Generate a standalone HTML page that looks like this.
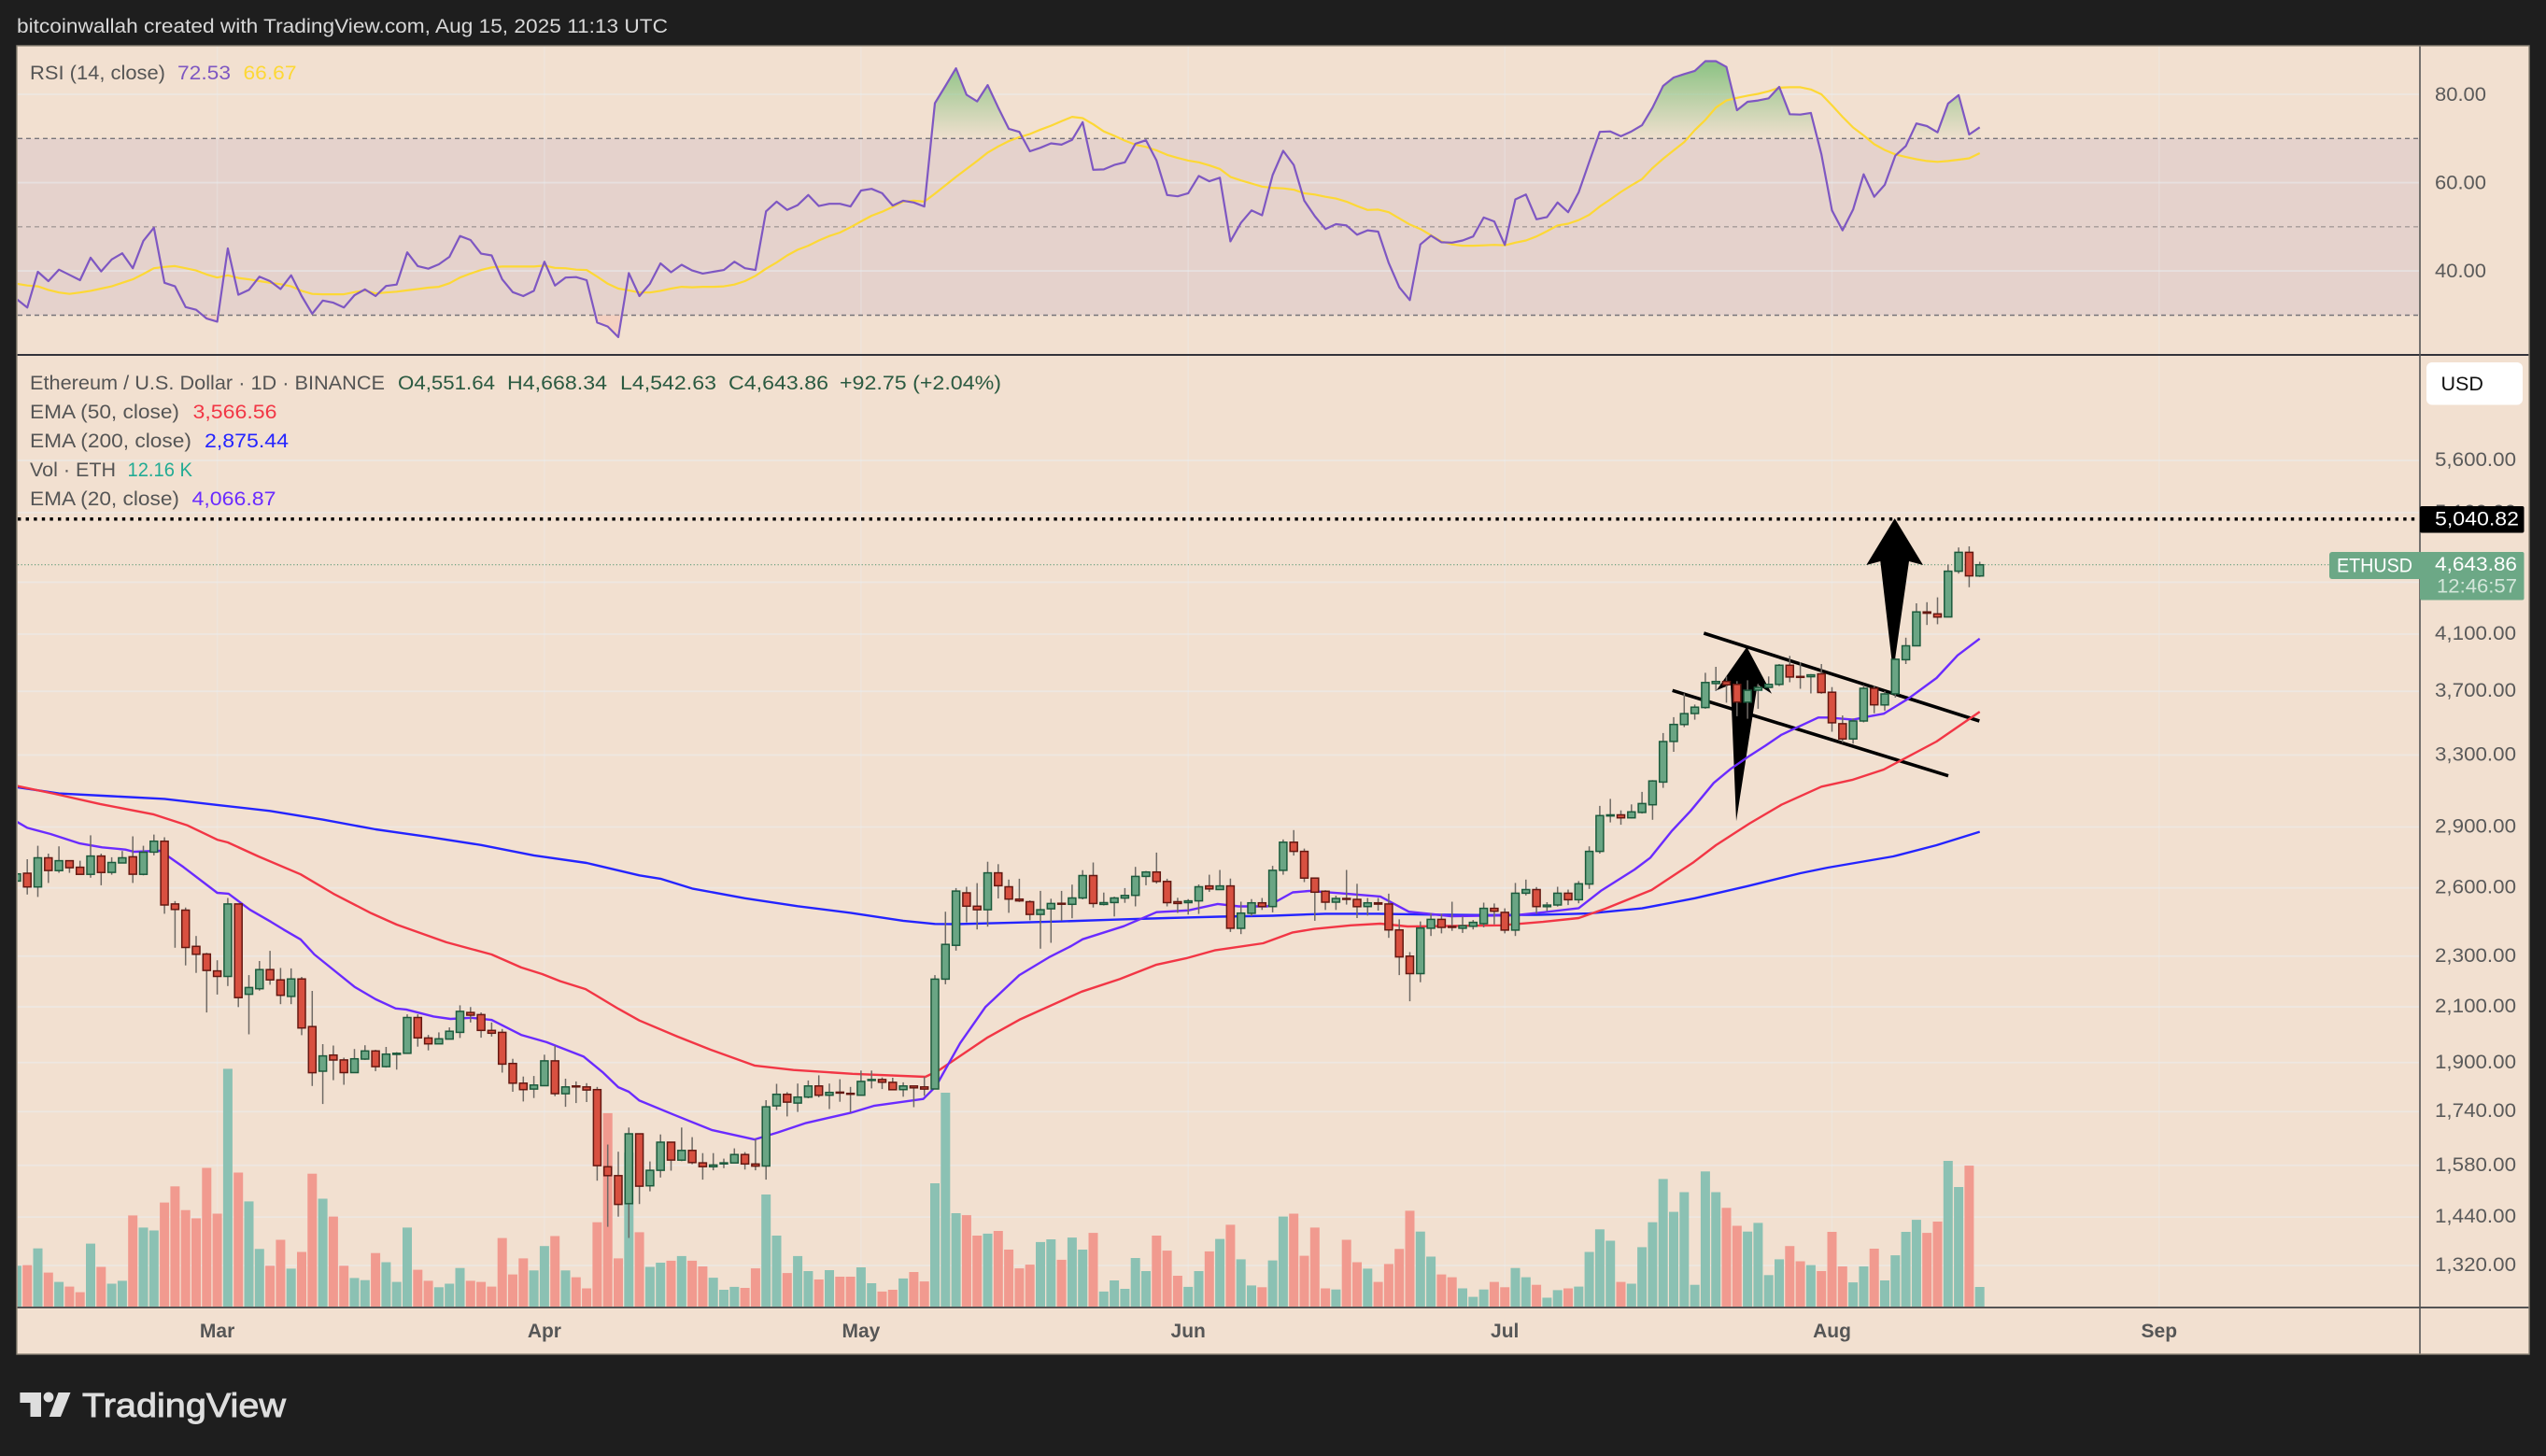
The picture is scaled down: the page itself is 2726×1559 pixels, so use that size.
<!DOCTYPE html>
<html lang="en">
<head>
<meta charset="utf-8">
<title>ETHUSD chart</title>
<style>
html,body{margin:0;padding:0;background:#1e1e1e;width:2726px;height:1559px;overflow:hidden}
svg{display:block}
text{font-family:"Liberation Sans",sans-serif}
</style>
</head>
<body>
<svg id="chart" xmlns="http://www.w3.org/2000/svg" width="2726" height="1559" viewBox="0 0 2726 1559">
  <defs>
    <clipPath id="plotClip"><rect x="19" y="50" width="2571" height="1350"/></clipPath>
    <clipPath id="rsiPaneClip"><rect x="19" y="50" width="2571" height="329"/></clipPath>
    <clipPath id="aboveClip"><rect x="19" y="50" width="2571" height="98.3"/></clipPath>
    <clipPath id="belowClip"><rect x="19" y="337.5" width="2571" height="42"/></clipPath>
    <linearGradient id="rsiUpGradient" gradientUnits="userSpaceOnUse" x1="0" y1="70" x2="0" y2="148">
      <stop offset="0" stop-color="#7fbf7a" stop-opacity="0.85"/>
      <stop offset="1" stop-color="#7fbf7a" stop-opacity="0.03"/>
    </linearGradient>
  </defs>

  <rect x="0" y="0" width="2726" height="1559" fill="#1e1e1e"/>
  <text x="18" y="35" font-size="21" fill="#d8d8d8" textLength="697" lengthAdjust="spacingAndGlyphs">bitcoinwallah created with TradingView.com, Aug 15, 2025 11:13 UTC</text>

  <rect x="18" y="49" width="2690" height="1401" fill="#f2e0d0"/>
  <rect x="19" y="148.3" width="2571" height="189.2" fill="#e5d2cc"/>

  <g id="gridLayer"></g>

  <line x1="19" x2="2590" y1="148.3" y2="148.3" stroke="#77757a" stroke-width="1.4" stroke-dasharray="5 4"/>
  <line x1="19" x2="2590" y1="242.8" y2="242.8" stroke="#a59a98" stroke-width="1.4" stroke-dasharray="5 4"/>
  <line x1="19" x2="2590" y1="337.5" y2="337.5" stroke="#77757a" stroke-width="1.4" stroke-dasharray="5 4"/>

  <g id="rsiLayer" clip-path="url(#rsiPaneClip)"></g>
  <g id="volumeLayer" clip-path="url(#plotClip)"></g>

  <g>
    <line id="targetLine" x1="19" x2="2590" stroke="#000" stroke-width="3.4" stroke-dasharray="3.4 5.2"/>
    <line id="lastPriceLine" x1="19" x2="2494" stroke="#5f9a78" stroke-width="1.2" stroke-dasharray="1.2 2.4"/>
    <polygon points="1870.3,692.7 1897,742.7 1881.7,733 1859,879.3 1853,733 1837.7,739.3" fill="#000"/>
    <polygon points="2028.7,555 2059,605 2044,601 2027,720 2013.3,601 1998.3,605" fill="#000"/>
    <line x1="1824.3" y1="678" x2="2119.3" y2="772" stroke="#000" stroke-width="3.6"/>
    <line x1="1790.7" y1="739.3" x2="2086" y2="830.7" stroke="#000" stroke-width="3.6"/>
  </g>

  <g id="emaLayer" clip-path="url(#plotClip)"></g>
  <g id="candleLayer" clip-path="url(#plotClip)"></g>

  <line x1="18" x2="2708" y1="380" y2="380" stroke="#33333a" stroke-width="2"/>
  <line x1="18" x2="2708" y1="1400" y2="1400" stroke="#555" stroke-width="2"/>
  <line x1="2591" x2="2591" y1="49" y2="1450" stroke="#555" stroke-width="1.6"/>
  <rect x="18" y="49" width="2690" height="1401" fill="none" stroke="#8d8578" stroke-width="1.4"/>

  <g id="axisLayer"></g>

  <g font-size="21">
    <text x="32" y="85" fill="#555" textLength="145" lengthAdjust="spacingAndGlyphs">RSI (14, close)</text>
    <text x="190" y="85" fill="#7e57c2" textLength="57" lengthAdjust="spacingAndGlyphs">72.53</text>
    <text x="260.5" y="85" fill="#fdd835" textLength="57" lengthAdjust="spacingAndGlyphs">66.67</text>
  </g>
  <g font-size="21">
    <text x="32" y="417" fill="#555" textLength="380" lengthAdjust="spacingAndGlyphs">Ethereum / U.S. Dollar · 1D · BINANCE</text>
    <text x="426" y="417" fill="#2b5a41" textLength="104" lengthAdjust="spacingAndGlyphs">O4,551.64</text>
    <text x="543" y="417" fill="#2b5a41" textLength="107" lengthAdjust="spacingAndGlyphs">H4,668.34</text>
    <text x="664" y="417" fill="#2b5a41" textLength="103" lengthAdjust="spacingAndGlyphs">L4,542.63</text>
    <text x="780" y="417" fill="#2b5a41" textLength="107" lengthAdjust="spacingAndGlyphs">C4,643.86</text>
    <text x="899" y="417" fill="#2b5a41" textLength="173" lengthAdjust="spacingAndGlyphs">+92.75 (+2.04%)</text>
    <text x="32" y="448" fill="#555" textLength="160" lengthAdjust="spacingAndGlyphs">EMA (50, close)</text>
    <text x="206.5" y="448" fill="#f23645" textLength="90" lengthAdjust="spacingAndGlyphs">3,566.56</text>
    <text x="32" y="479" fill="#555" textLength="173" lengthAdjust="spacingAndGlyphs">EMA (200, close)</text>
    <text x="219" y="479" fill="#2424ff" textLength="90" lengthAdjust="spacingAndGlyphs">2,875.44</text>
    <text x="32" y="510" fill="#555" textLength="92" lengthAdjust="spacingAndGlyphs">Vol · ETH</text>
    <text x="136.5" y="510" fill="#22ab94" textLength="69.5" lengthAdjust="spacingAndGlyphs">12.16 K</text>
    <text x="32" y="541" fill="#555" textLength="160" lengthAdjust="spacingAndGlyphs">EMA (20, close)</text>
    <text x="205.5" y="541" fill="#6a2bff" textLength="90" lengthAdjust="spacingAndGlyphs">4,066.87</text>
  </g>

  <rect x="2598" y="388" width="103" height="45.5" rx="6" fill="#ffffff"/>
  <text x="2613.5" y="418" font-size="21" fill="#111" textLength="45.5" lengthAdjust="spacingAndGlyphs">USD</text>

  <rect x="2591" y="542" width="111.5" height="28.5" rx="2" fill="#000"/>
  <text x="2607" y="562.5" font-size="21" fill="#fff" textLength="90" lengthAdjust="spacingAndGlyphs">5,040.82</text>

  <rect x="2494" y="591" width="100" height="29" rx="3" fill="#6ca886"/>
  <text x="2502" y="612.5" font-size="21" fill="#fff" textLength="81" lengthAdjust="spacingAndGlyphs">ETHUSD</text>
  <rect x="2591" y="591" width="111.5" height="51.5" rx="2" fill="#6ca886"/>
  <text x="2607" y="611" font-size="21" fill="#fff" textLength="88" lengthAdjust="spacingAndGlyphs">4,643.86</text>
  <text x="2609" y="634.5" font-size="21" fill="#d3e6da" textLength="86" lengthAdjust="spacingAndGlyphs">12:46:57</text>

  <g fill="#dedede">
    <polygon points="21.4,1491 44,1491 44,1517 32.5,1517 32.5,1502 21.4,1502"/>
    <circle cx="52" cy="1496" r="5.4"/>
    <polygon points="62.5,1491 75.5,1491 65,1517 52.7,1517"/>
    <text x="88" y="1517" font-size="36" stroke="#dedede" stroke-width="0.9" textLength="218" lengthAdjust="spacingAndGlyphs">TradingView</text>
  </g>
</svg>

<script>
const firstDay = -19;
const monthLabels = ["Mar","Apr","May","Jun","Jul","Aug","Sep"];
const monthDays = [0,31,61,92,122,153,184];
const priceTicks = [5600,5100,4500,4100,3700,3300,2900,2600,2300,2100,1900,1740,1580,1440,1320];
const priceTickLabels = ["5,600.00","5,100.00","","4,100.00","3,700.00","3,300.00","2,900.00","2,600.00","2,300.00","2,100.00","1,900.00","1,740.00","1,580.00","1,440.00","1,320.00"];
const rsiTicks = [80,60,40];
const rsiTickLabels = ["80.00","60.00","40.00"];
const targetPrice = 5040.82;
const lastPrice = 4643.86;

const open = [2632,2669,2604,2744,2682,2730,2698,2664,2753,2673,
2719,2749,2664,2772,2827,2526,2498,2341,2309,2240,
2218,2526,2148,2169,2245,2204,2140,2208,2027,1871,
1926,1909,1866,1912,1940,1886,1928,1932,2060,1986,
1965,1982,2006,2079,2071,2013,2006,1897,1831,1812,
1823,1906,1797,1822,1819,1810,1576,1551,1475,1672,
1523,1566,1647,1595,1623,1587,1576,1584,1587,1611,
1584,1578,1758,1795,1767,1786,1822,1792,1802,1798,
1792,1841,1843,1834,1810,1822,1819,1812,2207,2345,
2577,2516,2500,2671,2605,2548,2536,2479,2504,2529,
2524,2553,2658,2524,2532,2553,2565,2654,2675,2630,
2536,2532,2540,2609,2592,2609,2418,2484,2531,2514,
2683,2822,2776,2646,2584,2534,2551,2547,2514,2531,
2526,2411,2300,2229,2418,2457,2426,2418,2427,2438,
2506,2488,2410,2575,2592,2514,2521,2575,2545,2618,
2776,2958,2964,2948,2977,3018,3144,3381,3486,3555,
3594,3752,3766,3746,3629,3707,3726,3746,3877,3800,
3798,3818,3694,3491,3397,3508,3720,3611,3683,3916,
4015,4267,4252,4228,4590,4748,4551.64];

const high = [2698,2737,2804,2765,2801,2730,2730,2857,2765,2747,
2778,2852,2804,2861,2847,2539,2510,2385,2314,2283,
2553,2526,2223,2280,2322,2252,2250,2216,2161,1964,
1959,1917,1947,1960,1944,1954,1936,2072,2072,1997,
2006,2024,2106,2099,2079,2042,2018,1913,1853,1855,
1927,1959,1846,1837,1831,1819,1640,1619,1691,1672,
1591,1670,1648,1691,1662,1615,1615,1599,1629,1618,
1657,1776,1829,1802,1830,1840,1857,1830,1844,1819,
1873,1873,1850,1849,1834,1822,1852,2223,2491,2599,
2605,2622,2725,2713,2639,2643,2542,2586,2550,2586,
2615,2684,2721,2578,2559,2599,2700,2680,2770,2643,
2554,2548,2616,2662,2685,2644,2536,2548,2553,2705,
2836,2884,2790,2646,2589,2564,2685,2619,2553,2553,
2573,2457,2317,2448,2485,2482,2536,2470,2454,2532,
2528,2506,2623,2639,2604,2534,2605,2592,2632,2801,
3012,3050,2988,3020,3089,3155,3433,3532,3686,3613,
3825,3866,3800,3768,3774,3750,3800,3886,3943,3899,
3816,3886,3728,3543,3524,3742,3735,3702,3927,4074,
4333,4342,4380,4645,4790,4800,4668.34];

const low = [2569,2569,2558,2623,2671,2671,2664,2648,2612,2662,
2719,2623,2659,2756,2482,2335,2262,2232,2079,2147,
2180,2099,1999,2162,2185,2110,2110,1996,1822,1764,
1841,1826,1866,1909,1871,1883,1876,1932,1955,1942,
1965,1982,1986,2042,1987,1991,1866,1803,1772,1783,
1823,1789,1755,1767,1770,1537,1415,1441,1387,1474,
1508,1546,1565,1592,1583,1540,1566,1572,1587,1568,
1566,1540,1745,1725,1739,1782,1785,1748,1771,1737,
1792,1814,1812,1808,1787,1754,1790,1812,2187,2323,
2444,2413,2425,2551,2486,2535,2453,2331,2356,2451,
2462,2547,2510,2519,2470,2531,2515,2612,2620,2515,
2486,2478,2481,2581,2591,2402,2393,2471,2499,2488,
2662,2755,2627,2451,2499,2499,2523,2463,2474,2496,
2377,2223,2121,2195,2385,2396,2407,2398,2413,2422,
2435,2396,2385,2565,2482,2493,2514,2521,2529,2595,
2765,2924,2912,2945,2971,2938,3111,3319,3470,3516,
3586,3702,3625,3538,3522,3586,3724,3735,3761,3717,
3686,3684,3441,3374,3368,3499,3557,3574,3659,3886,
4015,4168,4173,4228,4570,4460,4542.63];

const close = [2666,2604,2744,2682,2730,2696,2664,2753,2673,2721,
2744,2664,2772,2827,2521,2501,2336,2308,2242,2218,
2526,2135,2174,2245,2204,2144,2208,2022,1866,1923,
1909,1866,1913,1940,1886,1929,1932,2060,1986,1965,
1983,2010,2083,2069,2013,2003,1895,1831,1810,1825,
1906,1797,1819,1820,1809,1579,1551,1473,1672,1522,
1566,1647,1595,1623,1588,1576,1581,1587,1611,1584,
1578,1755,1795,1770,1786,1822,1792,1801,1800,1795,
1837,1843,1834,1810,1822,1816,1812,2207,2349,2585,
2516,2500,2671,2610,2548,2540,2479,2500,2528,2527,
2553,2658,2528,2532,2553,2565,2654,2675,2630,2532,
2528,2540,2605,2595,2609,2418,2485,2531,2514,2683,
2822,2776,2646,2580,2534,2551,2548,2514,2531,2525,
2411,2297,2229,2419,2457,2422,2423,2429,2444,2506,
2493,2410,2575,2592,2514,2521,2575,2545,2619,2776,
2960,2964,2948,2980,3025,3150,3381,3486,3555,3596,
3759,3766,3744,3629,3707,3726,3746,3877,3796,3796,
3811,3692,3497,3397,3508,3720,3611,3683,3919,4015,
4267,4257,4228,4590,4748,4551.64,4643.86];

const volume = [25.3,25.7,36.1,21.1,15.3,12.4,8.9,39,24.6,14.2,
16,56.5,49,47.2,64.5,74.5,59.8,54.7,86,57.6,
147.4,83.1,65.2,35.7,25.3,41.4,23.5,33.9,82.4,66.9,
55.8,25.3,17.7,16.4,33.2,27.5,15.3,49,22.8,16,
12,14.2,23.9,16,15.3,12.4,42.5,19.9,29.9,22.4,
37.5,43.7,22.4,18.2,11.3,52.3,119.9,29.9,95.5,46.1,
24.6,27.2,28.4,31.3,28.4,24.9,17.9,10.4,12.2,11.6,
23.7,69.5,44,20.8,31.3,22,16.8,22.6,18.5,18.5,
24.3,14.5,9.3,10.4,17.4,21.4,15.6,76.4,132.6,57.9,
56.7,44,45.2,46.9,35.3,23.7,26,40,41.7,29,
42.8,35.3,45.7,9.3,16.2,11,30.1,22,44,34.7,
19.1,12.2,22,34.2,41.9,50.7,29.3,13.1,12,28.6,
55.8,57.6,31.5,49,11.3,10.6,41.4,27.5,23.5,15.3,
26.4,35.7,59.4,46.5,31,19.9,18.2,11.3,6,10.6,
15.3,12,23.9,18.2,13.5,5.5,10.2,11.3,12.4,33.9,
47.9,40.8,15.3,14.2,36.8,52.3,79.1,58.7,70.9,13.5,
83.8,70.9,61.2,50.1,46.5,51.9,19.5,29.3,37.5,28.1,
25.7,22,46.3,24.9,15,24.9,35.9,16.2,31.8,46.3,
53.8,45.7,52.7,90.3,74.1,87.4,12.16];

const rsi = [33.6,31.7,39.8,37.7,40.3,39.1,37.9,43,39.9,42.6,
44,40.6,46.8,49.8,37.3,36.5,31.8,31.2,29.2,28.5,
45.1,34.6,35.7,38.7,37.7,35.9,39,34.3,30.3,33.3,
32.8,31.7,34.5,35.8,34.3,36.6,36.9,44.2,41.1,40.5,
41.5,43.2,47.9,47,43.9,43.5,38.1,35.2,34.3,35.5,
42.1,36.7,38.5,38.6,37.9,28.3,27.4,25,39.5,34.3,
37.1,41.7,39.7,41.4,40.1,39.4,39.8,40.2,42.1,40.6,
40.2,53.5,55.7,53.8,54.9,57.2,54.7,55.2,55.2,54.6,
58.2,58.6,57.6,54.8,55.9,55.5,54.6,78,81.9,85.9,
79.9,78.4,82.1,77,72.2,71.5,67.1,67.9,68.9,68.6,
69.7,73.7,62.9,63,64,64.6,68.8,69.6,65,57.2,
56.9,57.6,61.5,60.3,61.1,46.7,50.9,53.7,52.6,61.7,
67.2,64,55.9,52.4,49.5,50.6,50.3,48.2,49.2,48.9,
41.8,36.3,33.4,46,48,46.5,46.4,46.9,47.8,52.1,
51.2,45.9,56.2,57.3,51.7,52.2,55.5,53.3,57.8,64.7,
71.5,71.6,70.5,71.6,73,77,81.9,83.8,84.6,85.3,
87.5,87.5,86.2,76.4,78.3,78.6,79.1,81.7,75.5,75.4,
75.8,66.4,53.7,49.2,53.9,61.9,56.8,59.5,66.1,68.3,
73.4,72.8,71.4,77.9,79.8,70.9,72.53];

const rsiMa = [37.1,36.7,36.5,35.7,35.1,34.8,35.1,35.5,36,36.5,
37.3,38.1,39.3,40.6,40.9,41.1,40.6,40.1,39.2,38.5,
39,38.4,38.1,37.7,37.3,37,36.5,35.5,34.8,34.7,
34.7,34.7,35.2,35.6,34.9,35.1,35.3,35.6,35.9,36.2,
36.4,37.2,38.5,39.4,40.2,40.8,41,41,41,41,
41.2,40.7,40.6,40.3,40.2,38.7,37.1,36,35.6,35.1,
35.1,35.5,36,36.4,36.3,36.4,36.4,36.5,36.9,37.7,
38.9,40.5,41.9,43.5,44.8,45.7,46.9,47.9,48.7,49.9,
51.2,52.5,53.4,54.5,55.7,55.9,55.7,57.5,59.4,61.3,
63.1,64.9,66.8,68.2,69.4,70.3,71,72,72.9,73.9,
74.9,74.6,73.2,71.6,70.6,69.5,68.6,68.1,67.3,66.3,
65.6,65,64.6,63.9,63.1,61.3,60.5,59.8,59.1,58.8,
58.7,58.4,57.6,57.3,56.8,56.4,55.7,54.7,53.8,53.9,
53.3,51.9,50.5,49.5,48.1,46.7,46,45.7,45.7,45.8,
45.9,45.8,46.4,46.9,47.8,49,50.3,50.7,51.5,52.7,
54.6,56.2,57.9,59.4,60.8,63.3,65.4,67.3,69.2,71.9,
74.2,77,78.6,79.2,79.7,80.1,80.7,81.5,81.6,81.6,
81.1,80,77.5,74.9,72.5,70.7,68.7,67.4,66.4,65.8,
65.3,64.9,64.7,64.9,65.2,65.5,66.67];

const ema200Days = [-19,-15,-10,-5,0,5,10,15,20,25,30,35,40,42,45,50,55,60,65,68,70,75,80,85,90,95,100,105,110,115,120,125,130,135,140,145,150,152.6,158.8,162.9,167];
const ema200Values = [3115,3080,3065,3050,3017,2985,2939,2888,2849,2808,2756,2719,2659,2643,2597,2552,2516,2486,2451,2437,2436,2442,2448,2456,2463,2469,2473,2482,2482,2478,2476,2477,2483,2506,2552,2608,2669,2696,2751,2807,2875.44];

const ema50Days = [-19,-15.4,-11.1,-6,-2.8,0,1,3.9,7.9,11,14.6,17,21.7,26,28.8,30.8,32.5,34.9,38,40,43.6,46.7,50.9,54.6,60.2,67.1,68.3,73,76,81.9,85.5,89,91.8,94.5,99.1,101.9,103.9,107.4,110.2,112.8,121.6,125.6,129,131.5,135.9,139.9,142,145.2,148.2,152,154.9,157.9,162.9,167];
const ema50Values = [3122,3078,3022,2966,2908,2835,2821,2751,2664,2573,2484,2434,2358,2307,2254,2227,2199,2168,2093,2049,1991,1945,1890,1875,1862,1852,1872,1988,2052,2158,2207,2265,2291,2324,2354,2400,2415,2431,2438,2426,2431,2446,2463,2504,2590,2723,2807,2919,3018,3118,3156,3215,3381,3566.56];

const ema20Days = [-19,-18,-15.8,-13.1,-10.9,-8.7,-7.9,-5.4,-3.2,0,1.07,3.1,5.1,6.3,7.9,9.2,13,15,16.9,17.9,20.5,22.1,24.1,26,28.8,31.2,34.7,36.5,38,39,40,43.2,46.9,50.9,53.1,55.8,60,62.2,66.9,68.1,70.4,72.8,76,78.8,80.9,82,85.9,89,92,94.8,96.8,99.5,101.9,103.5,107,110.2,112.9,116.9,122.9,125.6,129,131.1,134.3,135.8,137.8,139.6,141.8,143.4,145.2,146.7,148.2,149.8,151.7,152.6,155,156.4,157.9,160.2,162.9,164.9,167];
const ema20Values = [2928,2896,2864,2817,2796,2785,2774,2779,2699,2577,2573,2500,2446,2412,2370,2307,2177,2129,2094,2090,2064,2055,2059,2051,1997,1971,1921,1868,1818,1803,1775,1731,1683,1655,1676,1705,1736,1758,1780,1821,1968,2100,2223,2295,2342,2371,2427,2489,2497,2526,2515,2515,2579,2586,2573,2560,2491,2471,2475,2488,2507,2586,2687,2745,2878,2985,3139,3219,3296,3356,3422,3471,3530,3530,3516,3536,3554,3650,3789,3947,4066.87];

function xDay(d){ return 232.6 + 11.3 * d; }
function yPrice(p){ return 493 + 596.5 * Math.log(5600 / p); }
function yRsi(v){ return 101 + (80 - v) * 4.727; }
function yVol(v){ return 1399 - v / 0.579; }

const NS = "http://www.w3.org/2000/svg";
function mk(tag, attrs, parent){
  const el = document.createElementNS(NS, tag);
  for (const k in attrs) el.setAttribute(k, attrs[k]);
  parent.appendChild(el);
  return el;
}
const gridLayer = document.getElementById("gridLayer");
const rsiLayer = document.getElementById("rsiLayer");
const volumeLayer = document.getElementById("volumeLayer");
const emaLayer = document.getElementById("emaLayer");
const candleLayer = document.getElementById("candleLayer");
const axisLayer = document.getElementById("axisLayer");

document.getElementById("targetLine").setAttribute("y1", yPrice(targetPrice));
document.getElementById("targetLine").setAttribute("y2", yPrice(targetPrice));
document.getElementById("lastPriceLine").setAttribute("y1", yPrice(lastPrice));
document.getElementById("lastPriceLine").setAttribute("y2", yPrice(lastPrice));

/* grid + axis labels */
priceTicks.forEach(function(t, i){
  const y = yPrice(t);
  const g = mk("line", {x1:19, x2:2590, y1:y, y2:y, stroke:"#e9edf2", "stroke-opacity":0.5, "stroke-width":1.8}, gridLayer);
  
  
  if (priceTickLabels[i]) {
    const l = mk("text", {x:2607, y:y + 6, "font-size":21, fill:"#5a5a5a", textLength:87, lengthAdjust:"spacingAndGlyphs"}, axisLayer);
    
    
    l.textContent = priceTickLabels[i];
  }
});
rsiTicks.forEach(function(t, i){
  const y = yRsi(t);
  const g = mk("line", {x1:19, x2:2590, y1:y, y2:y, stroke:"#e9edf2", "stroke-opacity":0.5, "stroke-width":1.8}, gridLayer);
  
  
  const l = mk("text", {x:2607, y:y + 7, "font-size":21, fill:"#5a5a5a", textLength:55, lengthAdjust:"spacingAndGlyphs"}, axisLayer);
  
  
  l.textContent = rsiTickLabels[i];
});
monthDays.forEach(function(d, i){
  const x = xDay(d);
  const g = mk("line", {x1:x, x2:x, y1:50, y2:1399, stroke:"#e9edf2", "stroke-opacity":0.3, "stroke-width":1.6}, gridLayer);
  
  
  const l = mk("text", {x:x, y:1432, "font-size":21, "font-weight":"bold", fill:"#565656", "text-anchor":"middle"}, axisLayer);
  
  
  l.textContent = monthLabels[i];
});

/* RSI pane */
function rsiPts(arr){
  return arr.map(function(v, i){ return xDay(firstDay + i).toFixed(1) + "," + yRsi(v).toFixed(1); }).join(" ");
}
const baseRight = xDay(firstDay + rsi.length - 1).toFixed(1);
const baseLeft = xDay(firstDay).toFixed(1);
const upArea = mk("polygon", {points: baseLeft + "," + yRsi(70) + " " + rsiPts(rsi) + " " + baseRight + "," + yRsi(70), fill:"url(#rsiUpGradient)", "clip-path":"url(#aboveClip)"}, rsiLayer);


const downArea = mk("polygon", {points: baseLeft + "," + yRsi(30) + " " + rsiPts(rsi) + " " + baseRight + "," + yRsi(30), fill:"#f5c9ba", "fill-opacity":0.7, "clip-path":"url(#belowClip)"}, rsiLayer);


const rsiMaLine = mk("polyline", {points: rsiPts(rsiMa), fill:"none", stroke:"#fdd835", "stroke-width":2.2, "stroke-linejoin":"round"}, rsiLayer);


const rsiLine = mk("polyline", {points: rsiPts(rsi), fill:"none", stroke:"#7e57c2", "stroke-width":2.2, "stroke-linejoin":"round"}, rsiLayer);



/* volume */
volume.forEach(function(v, i){
  const up = close[i] >= open[i];
  const y = yVol(v);
  const b = mk("rect", {x:(xDay(firstDay + i) - 5).toFixed(1), y:y.toFixed(1), width:10, height:(1399 - y).toFixed(1), fill: up ? "#8bc1b3" : "#f19a8f"}, volumeLayer);
  
  
});

/* EMA lines */
function emaPts(days, vals){
  return days.map(function(d, i){ return xDay(d).toFixed(1) + "," + yPrice(vals[i]).toFixed(1); }).join(" ");
}
const ema200Line = mk("polyline", {points: emaPts(ema200Days, ema200Values), fill:"none", stroke:"#2424ff", "stroke-width":2.4, "stroke-linejoin":"round"}, emaLayer);


const ema50Line = mk("polyline", {points: emaPts(ema50Days, ema50Values), fill:"none", stroke:"#f23645", "stroke-width":2.4, "stroke-linejoin":"round"}, emaLayer);


const ema20Line = mk("polyline", {points: emaPts(ema20Days, ema20Values), fill:"none", stroke:"#6a2bff", "stroke-width":2.4, "stroke-linejoin":"round"}, emaLayer);



/* candles */
open.forEach(function(o, i){
  const c = close[i];
  const up = c >= o;
  const x = xDay(firstDay + i);
  const wick = mk("line", {x1:x, x2:x, y1:yPrice(high[i]).toFixed(1), y2:yPrice(low[i]).toFixed(1), stroke:"#6f6a65", "stroke-width":1.5}, candleLayer);
  
  
  const top = yPrice(Math.max(o, c));
  const bot = yPrice(Math.min(o, c));
  const body = mk("rect", {x:(x - 4).toFixed(1), y:top.toFixed(1), width:8, height:Math.max(bot - top, 1).toFixed(1), fill: up ? "#6aa584" : "#d85040", stroke: up ? "#1c5a3c" : "#641811", "stroke-width":1.5}, candleLayer);
  
  
});
</script>
</body>
</html>
